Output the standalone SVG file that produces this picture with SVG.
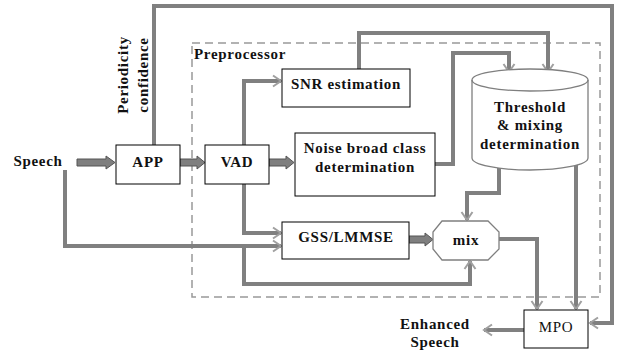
<svg xmlns="http://www.w3.org/2000/svg" width="619" height="353" viewBox="0 0 619 353">
<style>
.t{font-weight:bold;font-size:15px;letter-spacing:0.7px;fill:#111;text-anchor:middle}
.box{fill:#fff;stroke:#000;stroke-width:1}
.gbox{fill:#fff;stroke:#7f7f7f;stroke-width:1.3}
.c{fill:none;stroke:#808080;stroke-width:4;marker-end:url(#ah)}
.blk{fill:#7f7f7f;stroke:#555;stroke-width:1}
</style>
<defs>
<marker id="ah" markerUnits="userSpaceOnUse" markerWidth="12" markerHeight="14" viewBox="0 0 12 14" refX="9" refY="7" orient="auto">
<path d="M1,1.5 L9,7 L1,12.5" fill="none" stroke="#a0a0a0" stroke-width="2"/>
</marker>
</defs>
<g font-family="'Liberation Serif', 'DejaVu Serif', serif">
<rect x="192" y="43" width="408" height="254" fill="none" stroke="#999" stroke-width="1.5" stroke-dasharray="8,5"/>
<text class="t" x="240" y="59">Preprocessor</text>
<g id="connectors">
<path class="c" d="M154,145 V6 H612 V323 H590"/>
<path class="c" d="M244,145 V81 H281"/>
<path class="c" d="M244,184 V233 H281"/>
<path class="c" d="M65,170 V246 H281"/>
<path class="c" d="M244,246 V284 H470 V261"/>
<path class="c" d="M359,69 V33 H548 V72"/>
<path class="c" d="M435,164 H453 V53 H509 V72"/>
<path class="c" d="M499,168 V193 H467 V220"/>
<path class="c" d="M576,165 V309"/>
<path class="c" d="M499,239 H537 V309"/>
<path class="c" d="M524,330 H484"/>
<polygon class="blk" points="77,159 106,159 106,156 115,162.5 106,169 106,166 77,166"/>
<polygon class="blk" points="180,159 197,159 197,156 205,162.5 197,169 197,166 180,166"/>
<polygon class="blk" points="269,159 286,159 286,156 294,162.5 286,169 286,166 269,166"/>
<polygon class="blk" points="409,236 425,236 425,233 433,239.5 425,246 425,243 409,243"/>
</g>
<g id="periodicity-label">
<text class="t" transform="translate(128,75) rotate(-90)">Periodicity</text>
<text class="t" transform="translate(148,75) rotate(-90)">confidence</text>
</g>
<g id="speech-in"><text class="t" x="38" y="166">Speech</text></g>
<g id="app"><rect class="box" x="116" y="145" width="64" height="39"/><text class="t" x="148" y="167">APP</text></g>
<g id="vad"><rect class="box" x="205" y="145" width="64" height="39"/><text class="t" x="237" y="167">VAD</text></g>
<g id="snr"><rect class="box" x="282" y="69" width="128" height="38"/><text class="t" x="346" y="89">SNR estimation</text></g>
<g id="noise"><rect class="box" x="295" y="133" width="140" height="63"/><text class="t" x="365" y="153">Noise broad class</text><text class="t" x="365" y="172">determination</text></g>
<g id="gss"><rect class="box" x="282" y="222" width="127" height="37"/><text class="t" x="346" y="242" letter-spacing="0">GSS/LMMSE</text></g>
<g id="threshold">
<path class="gbox" d="M472,80 A58,11 0 0 1 588,80 V158 A58,12 0 0 1 472,158 Z"/>
<path d="M472,80 A58,11 0 0 0 588,80" fill="none" stroke="#7f7f7f" stroke-width="1.3"/>
<text class="t" x="530" y="112">Threshold</text>
<text class="t" x="530" y="130">&amp; mixing</text>
<text class="t" x="530" y="149">determination</text>
</g>
<g id="mix"><polygon class="gbox" points="442,221 488,221 499,232 499,249 488,260 442,260 433,249 433,232"/><text class="t" x="466" y="245">mix</text></g>
<g id="mpo"><rect class="box" x="524" y="310" width="64" height="38"/><text class="t" x="556" y="332" font-weight="normal" style="font-weight:normal">MPO</text></g>
<g id="enhanced"><text class="t" x="435" y="329">Enhanced</text><text class="t" x="435" y="347">Speech</text></g>
</g>
</svg>
